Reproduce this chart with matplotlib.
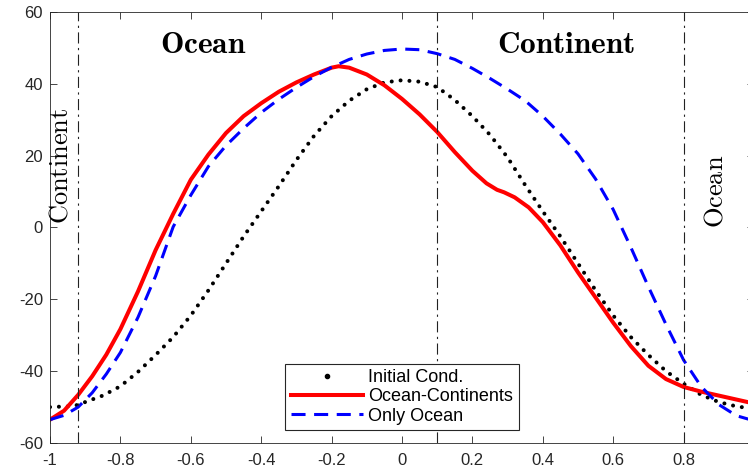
import numpy as np
import matplotlib
matplotlib.use('Agg')
import matplotlib.pyplot as plt
from matplotlib.lines import Line2D

plt.rcParams['font.family'] = ['Liberation Sans', 'DejaVu Sans']
plt.rcParams['mathtext.fontset'] = 'cm'
plt.rcParams['axes.unicode_minus'] = False

# initial condition (dotted)
x_init = [-1.0, -0.95, -0.92, -0.9, -0.85, -0.8, -0.75, -0.7, -0.65, -0.6, -0.55,
          -0.5, -0.45, -0.4, -0.35, -0.3, -0.25, -0.2, -0.15, -0.1, -0.05, 0.0,
          0.05, 0.1, 0.15, 0.2, 0.25, 0.3, 0.35, 0.4, 0.45, 0.5, 0.55, 0.6,
          0.65, 0.7, 0.75, 0.8, 0.85, 0.9, 0.95, 1.0]
y_init = [-50.0, -49.8, -49.4, -48.6, -46.8, -44.2, -40.2, -35.5, -30.5, -24.5, -17.5,
          -10.0, -2.5, 4.5, 11.5, 18.8, 25.5, 31.0, 35.3, 38.5, 40.4, 41.0,
          40.6, 39.1, 35.5, 31.0, 25.8, 19.5, 11.8, 4.5, -2.5, -10.0, -17.5, -24.5,
          -30.5, -35.5, -40.0, -43.5, -46.6, -48.6, -49.8, -50.5]

# ocean-continents (solid red)
x_oc = [-1.0, -0.96, -0.92, -0.88, -0.84, -0.8, -0.75, -0.7, -0.65, -0.6, -0.55,
        -0.5, -0.45, -0.4, -0.35, -0.3, -0.25, -0.2, -0.18, -0.15, -0.1, -0.05,
        0.0, 0.05, 0.1, 0.15, 0.2, 0.24, 0.27, 0.29, 0.32, 0.36, 0.4, 0.45,
        0.5, 0.55, 0.6, 0.65, 0.7, 0.75, 0.8, 0.85, 0.9, 0.95, 1.0]
y_oc = [-53.5, -51.0, -46.6, -41.4, -35.4, -28.3, -17.8, -6.3, 3.8, 13.3, 20.3,
        26.3, 31.0, 34.6, 37.8, 40.4, 42.6, 44.5, 44.9, 44.5, 42.6, 39.6,
        35.8, 31.5, 26.6, 21.0, 15.8, 12.3, 10.5, 9.8, 8.4, 5.6, 1.5, -5.0,
        -12.5, -19.5, -26.5, -33.0, -38.5, -42.2, -44.4, -45.7, -46.8, -47.9, -49.0]

# only ocean (dashed blue)
x_oo = [-1.0, -0.96, -0.92, -0.88, -0.84, -0.8, -0.75, -0.7, -0.65, -0.6, -0.55,
        -0.5, -0.45, -0.4, -0.35, -0.3, -0.25, -0.2, -0.15, -0.1, -0.05, 0.0,
        0.05, 0.1, 0.15, 0.2, 0.25, 0.3, 0.35, 0.4, 0.45, 0.5, 0.55, 0.6,
        0.65, 0.7, 0.75, 0.8, 0.85, 0.9, 0.95, 1.0]
y_oo = [-53.5, -52.3, -50.0, -46.0, -40.8, -34.8, -25.0, -13.5, 0.2, 9.0, 17.0,
        22.8, 27.6, 32.0, 35.7, 39.0, 42.0, 44.6, 46.8, 48.3, 49.3, 49.7,
        49.5, 48.4, 46.8, 44.3, 41.5, 38.5, 35.3, 31.0, 26.0, 20.5, 13.5, 5.0,
        -5.5, -16.5, -27.0, -36.9, -44.3, -49.3, -52.4, -53.8]

# region boundaries and labels
x_bounds = [-0.92, 0.1, 0.8]
xticks = [-1, -0.8, -0.6, -0.4, -0.2, 0, 0.2, 0.4, 0.6, 0.8, 1]
xtick_labels = ['-1', '-0.8', '-0.6', '-0.4', '-0.2', '0', '0.2', '0.4', '0.6', '0.8', '']
yticks = [-60, -40, -20, 0, 20, 40, 60]

fig = plt.figure(figsize=(7.48, 4.72), dpi=100)
ax = fig.add_axes([50 / 748, 29 / 472, 704 / 748, 431 / 472])

ax.plot(x_init, y_init, color='k', lw=2.9, linestyle=(0, (0.01, 2.2)),
        dash_capstyle='round', solid_capstyle='round')
ax.plot(x_oc, y_oc, color='#ff0000', lw=2.9, solid_joinstyle='round')
ax.plot(x_oo, y_oo, color='#0000ff', lw=2.2, linestyle=(0, (4.6, 2.8)))

for xb in x_bounds:
    ax.axvline(xb, color='#222222', lw=0.8, linestyle=(0, (10, 4, 2, 4)))

ax.text(-0.564, 48.6, r'$\mathbf{Ocean}$', fontsize=22.5, ha='center', va='baseline')
ax.text(0.466, 48.6, r'$\mathbf{Continent}$', fontsize=22.5, ha='center', va='baseline')
ax.text(-0.969, 17.1, r'$\mathrm{Continent}$', fontsize=19, rotation=90,
        ha='center', va='center')
ax.text(0.892, 10.2, r'$\mathrm{Ocean}$', fontsize=19, rotation=90,
        ha='center', va='center')

ax.set_xlim(-1, 1)
ax.set_ylim(-60, 60)
ax.set_xticks(xticks)
ax.set_xticklabels(xtick_labels)
ax.set_yticks(yticks)
ax.tick_params(direction='in', length=5, width=0.6, colors='#262626',
               labelsize=12, top=True, right=True)
ax.tick_params(axis='x', pad=7)
ax.tick_params(axis='y', pad=5)
for s in ax.spines.values():
    s.set_color('#262626')
    s.set_linewidth(0.6)

handles = [
    Line2D([], [], color='k', ls='none', marker='o', ms=3),
    Line2D([], [], color='#ff0000', lw=2.9),
    Line2D([], [], color='#0000ff', lw=2.2, linestyle=(0, (4.6, 2.8))),
]
leg = ax.legend(handles, ['Initial Cond.', 'Ocean-Continents', 'Only Ocean'],
                loc='lower center', bbox_to_anchor=(0.5, 0.03), fontsize=13,
                fancybox=False, framealpha=1, edgecolor='#262626',
                handlelength=4.0, handletextpad=0.3, labelspacing=0.12,
                borderpad=0.3, borderaxespad=0)
leg.get_frame().set_linewidth(0.8)

fig.savefig('out.png', dpi=100)
